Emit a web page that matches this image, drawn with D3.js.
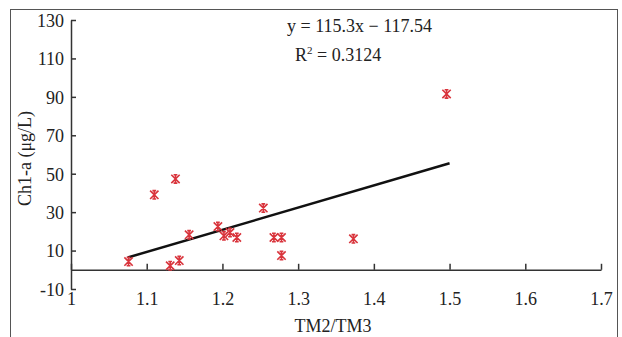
<!DOCTYPE html>
<html>
<head>
<meta charset="utf-8">
<script src="https://cdn.jsdelivr.net/npm/d3@7"></script>
<style>
    body { margin: 0; background: #fff; }
    svg text { font-family: "Liberation Serif", "Times New Roman", serif; fill: #222; }
</style>
</head>
<body>
<div id="chart"></div>
<script>
// TM2/TM3 ratio vs Chl-a
const ratioValues = [1.076, 1.110, 1.138, 1.131, 1.143, 1.156, 1.194, 1.202, 1.210, 1.219, 1.254, 1.268, 1.278, 1.278, 1.373, 1.496];
const chlaValues = [4.3, 39, 47.3, 2.1, 4.8, 18.2, 22.5, 17.7, 19.4, 16.8, 32.1, 16.8, 16.8, 7.4, 16.1, 91.5];
const xTicks = [1, 1.1, 1.2, 1.3, 1.4, 1.5, 1.6, 1.7];
const yTicks = [-10, 10, 30, 50, 70, 90, 110, 130];
const fitSlope = 115.3;
const fitIntercept = -117.54;
const fitRange = [1.075, 1.5];

const width = 622, height = 337;

const svg = d3.select('#chart')
    .append('svg')
    .attr('width', width)
    .attr('height', height);

// outer frame
svg.append('rect')
    .attr('x', 10.5).attr('y', 9.5)
    .attr('width', 607).attr('height', 340)
    .attr('fill', 'none')
    .attr('stroke', '#555')
    .attr('stroke-width', 1);

const x = d3.scaleLinear().domain([1, 1.7]).range([71, 601]);
const y = d3.scaleLinear().domain([-10, 130]).range([289, 20]);

// y axis (ticks inward), plain hyphen for negatives like the original
const yAxis = svg.append('g')
    .attr('transform', `translate(${x(1)},0)`)
    .call(d3.axisRight(y).tickValues(yTicks).tickSize(5).tickSizeOuter(0).tickFormat(d => String(d)));
yAxis.select('.domain').attr('stroke', '#333').attr('stroke-width', 1.5);
yAxis.selectAll('.tick line').attr('stroke', '#333').attr('stroke-width', 1.5);
yAxis.selectAll('text')
    .attr('x', -7)
    .attr('dy', '0.35em')
    .style('text-anchor', 'end')
    .style('font-size', '18px');

// x axis along y = 0, ticks upward, labels at bottom
const xAxis = svg.append('g')
    .attr('transform', `translate(0,${y(0)})`)
    .call(d3.axisTop(x).tickValues(xTicks).tickSize(6).tickSizeOuter(0).tickFormat(d => String(d)));
xAxis.select('.domain').attr('stroke', '#333').attr('stroke-width', 1.5);
xAxis.selectAll('.tick line').attr('stroke', '#333').attr('stroke-width', 1.5);
xAxis.selectAll('text')
    .attr('y', y(-10) - y(0) + 16)
    .attr('dy', 0)
    .style('font-size', '18px')
    .style('text-anchor', 'middle');

// axis titles
svg.append('text')
    .attr('transform', `translate(31,${(y(-10) + y(130)) / 2 + 4}) rotate(-90)`)
    .style('text-anchor', 'middle')
    .style('font-size', '18px')
    .text('Ch1-a (μg/L)');

svg.append('text')
    .attr('x', 333)
    .attr('y', 332)
    .style('text-anchor', 'middle')
    .style('font-size', '18px')
    .text('TM2/TM3');

// regression line
const line = d3.line()
    .x(d => x(d))
    .y(d => y(fitSlope * d + fitIntercept));
svg.append('path')
    .datum(fitRange)
    .attr('d', line)
    .attr('fill', 'none')
    .attr('stroke', '#111')
    .attr('stroke-width', 2.5);

// star marker: an X with a vertical stroke through it
const starX = {
    draw(context, size) {
        const r = Math.sqrt(size) / 2;
        context.moveTo(-r, -r); context.lineTo(r, r);
        context.moveTo(r, -r); context.lineTo(-r, r);
        context.moveTo(0, -r); context.lineTo(0, r);
        context.moveTo(-r * 0.45, -r); context.lineTo(r * 0.45, -r);
        context.moveTo(-r * 0.45, r); context.lineTo(r * 0.45, r);
    }
};
const marker = d3.symbol().type(starX).size(70);
svg.selectAll('.pt')
    .data(ratioValues)
    .enter()
    .append('path')
    .attr('class', 'pt')
    .attr('transform', (d, i) => `translate(${x(d)},${y(chlaValues[i])})`)
    .attr('d', marker)
    .attr('fill', 'none')
    .attr('stroke', '#d9343c')
    .attr('stroke-width', 1.6);

// equation
const eq = svg.append('g').style('font-size', '18px');
eq.append('text')
    .attr('x', 287).attr('y', 32)
    .text('y = 115.3x − 117.54');
const r2 = eq.append('text').attr('x', 295).attr('y', 61);
r2.append('tspan').text('R');
r2.append('tspan').attr('dy', -7).style('font-size', '11px').text('2');
r2.append('tspan').attr('dy', 7).text(' = 0.3124');
</script>
</body>
</html>
